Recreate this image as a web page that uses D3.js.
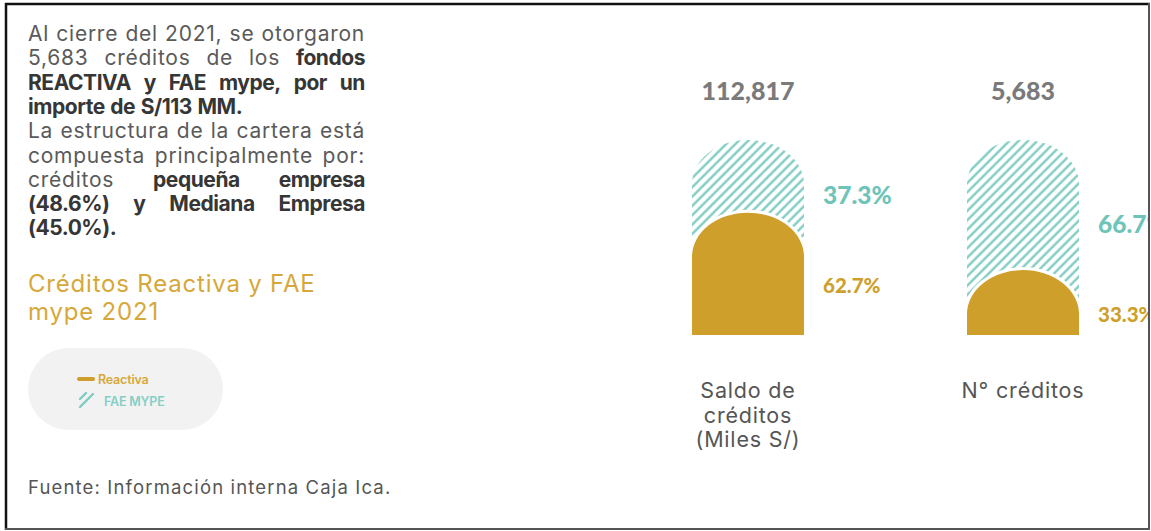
<!DOCTYPE html>
<html>
<head>
<meta charset="utf-8">
<script src="https://cdn.jsdelivr.net/npm/d3@7"></script>
<style>
  html, body { margin: 0; padding: 0; background: #fff; }
  svg { display: block; }
</style>
</head>
<body>
<svg id="chart" width="1151" height="531"></svg>
<script>
// Categories and values
const categories = ["Saldo de créditos (Miles S/)", "N° créditos"];
const categoryLines = [["Saldo de", "créditos", "(Miles S/)"], ["N° créditos"]];
const totals = [112817, 5683];
const reactivaPct = [62.7, 33.3];
const faePct = [37.3, 66.7];
const seriesNames = ["Reactiva", "FAE MYPE"];

// Intro paragraph, one entry per line: [text, bold]
const introLines = [
  [["Al cierre del 2021, se otorgaron", false]],
  [["5,683 créditos de los ", false], ["fondos", true]],
  [["REACTIVA y FAE mype, por un", true]],
  [["importe de S/113 MM.", true]],
  [["La estructura de la cartera está", false]],
  [["compuesta principalmente por:", false]],
  [["créditos ", false], ["pequeña empresa", true]],
  [["(48.6%) y Mediana Empresa", true]],
  [["(45.0%).", true]]
];
const justifiedLines = [true, true, true, false, true, true, true, true, false];
const titleLines = ["Créditos Reactiva y FAE", "mype 2021"];
const sourceText = "Fuente: Información interna Caja Ica.";

const GOLD = "#cf9f2b";
const TEAL = "#7ccbc1";
const TEAL_TEXT = "#6fc4b9";
const FONT = "Inter, 'Open Sans', sans-serif";
const NUM_FONT = "Lato, sans-serif";

const svg = d3.select("#chart");
const defs = svg.append("defs");

defs.append("pattern")
  .attr("id", "hatch")
  .attr("patternUnits", "userSpaceOnUse")
  .attr("width", 6.6).attr("height", 6.6)
  .attr("patternTransform", "rotate(45)")
  .append("line")
  .attr("x1", 1.5).attr("y1", 0).attr("x2", 1.5).attr("y2", 6.6)
  .attr("stroke", TEAL).attr("stroke-width", 2.3);

defs.append("clipPath").attr("id", "frameClip")
  .append("rect").attr("x", 6).attr("y", 4).attr("width", 1142).attr("height", 524);

svg.append("rect").attr("width", 1151).attr("height", 531).attr("fill", "#fff");

const root = svg.append("g").attr("clip-path", "url(#frameClip)");

// ---- Intro paragraph (justified) ----
const paraX = 28, paraRight = 365, paraTop = 41, lineH = 24.3;
const para = root.append("g");
introLines.forEach((runs, i) => {
  const words = [];
  runs.forEach(([t, b]) => t.split(" ").filter(w => w.length).forEach(w => words.push({ w, b })));
  const y = paraTop + i * lineH;
  const nodes = words.map(d =>
    para.append("text")
      .attr("y", y)
      .attr("font-family", FONT)
      .attr("font-size", 21)
      .attr("font-weight", d.b ? 700 : 400)
      .attr("letter-spacing", d.b ? -0.45 : 0.75)
      .attr("fill", d.b ? "#363636" : "#5a5a5a")
      .text(d.w));
  let widths = nodes.map(n => n.node().getComputedTextLength());
  const total = d3.sum(widths);
  let gap = 5.5;
  if (justifiedLines[i] && words.length > 1) {
    gap = (paraRight - paraX - total) / (words.length - 1);
    if (gap < 4) {
      // too long for the column: squeeze the words slightly
      const k = (paraRight - paraX - 4 * (words.length - 1)) / total;
      nodes.forEach((n, j) => n.attr("textLength", widths[j] * k).attr("lengthAdjust", "spacingAndGlyphs"));
      widths = widths.map(w => w * k);
      gap = 4;
    }
  }
  let x = paraX;
  nodes.forEach((n, k) => { n.attr("x", x); x += widths[k] + gap; });
});

// ---- Title ----
root.append("g").selectAll("text").data(titleLines).join("text")
  .attr("x", 28).attr("y", (d, i) => 292 + i * 28)
  .attr("font-family", FONT).attr("font-size", 24).attr("font-weight", 400)
  .attr("fill", "#d6a83a").attr("letter-spacing", 0.8)
  .text(d => d);

// ---- Legend ----
const legend = root.append("g");
legend.append("rect").attr("x", 28).attr("y", 348).attr("width", 195).attr("height", 82)
  .attr("rx", 41).attr("fill", "#f2f2f2");
legend.append("line").attr("x1", 79).attr("x2", 93).attr("y1", 379).attr("y2", 379)
  .attr("stroke", GOLD).attr("stroke-width", 4).attr("stroke-linecap", "round");
[[80, 399, 86, 393], [80, 407, 93, 394]].forEach(([x1, y1, x2, y2]) =>
  legend.append("line").attr("x1", x1).attr("y1", y1).attr("x2", x2).attr("y2", y2)
    .attr("stroke", TEAL).attr("stroke-width", 2.4).attr("stroke-linecap", "round"));
legend.selectAll("text.lg").data(seriesNames).join("text").attr("class", "lg")
  .attr("x", (d, i) => i === 0 ? 98 : 104)
  .attr("y", (d, i) => i === 0 ? 384 : 406)
  .attr("font-family", FONT).attr("font-size", 12.5).attr("font-weight", 600)
  .attr("fill", (d, i) => i === 0 ? "#d6a83a" : "#86cfc5")
  .attr("letter-spacing", -0.2)
  .text(d => d);

// ---- Source ----
root.append("text").attr("x", 28).attr("y", 494)
  .attr("font-family", FONT).attr("font-size", 18.5).attr("fill", "#555")
  .attr("letter-spacing", 1.15)
  .text(sourceText);

// ---- Bars ----
const x = d3.scalePoint().domain(categories).range([748, 1023]);
const y = d3.scaleLinear().domain([0, 100]).range([335, 140]);
const barW = 112;

function archPath(cx, yTop, yBottom) {
  const rx = barW / 2;
  const ry = Math.min(44, yBottom - yTop);
  const x0 = cx - rx, x1 = cx + rx;
  return `M${x0},${yBottom}L${x0},${yTop + ry}` +
    `A${rx},${ry} 0 0 1 ${cx},${yTop}` +
    `A${rx},${ry} 0 0 1 ${x1},${yTop + ry}` +
    `L${x1},${yBottom}Z`;
}

const rows = categories.map((c, i) => ({
  c, total: totals[i], r: reactivaPct[i], f: faePct[i], lines: categoryLines[i]
}));

const bars = root.append("g").selectAll("g").data(rows).join("g");

// FAE MYPE share, stacked above Reactiva
bars.append("path")
  .attr("d", d => archPath(x(d.c), y(d.r + d.f), y(0)))
  .attr("fill", "url(#hatch)");

// Reactiva share, with a white halo separating it from the hatch
bars.append("path")
  .attr("d", d => archPath(x(d.c), y(d.r), y(0)))
  .attr("fill", "#fff").attr("stroke", "#fff").attr("stroke-width", 6);
bars.append("path")
  .attr("d", d => archPath(x(d.c), y(d.r), y(0)))
  .attr("fill", GOLD);

// Totals above each bar
bars.append("text")
  .attr("x", d => x(d.c)).attr("y", 100)
  .attr("text-anchor", "middle")
  .attr("font-family", NUM_FONT).attr("font-size", 25).attr("font-weight", 900)
  .attr("fill", "#7a7a7a")
  .text(d => d3.format(",")(d.total));

// Percent labels
bars.append("text")
  .attr("x", d => x(d.c) + barW / 2 + 19)
  .attr("y", d => (y(d.r + d.f) + y(d.r)) / 2 + 28)
  .attr("font-family", NUM_FONT).attr("font-size", 24.5).attr("font-weight", 900)
  .attr("fill", TEAL_TEXT)
  .text(d => d3.format(".1f")(d.f) + "%");
bars.append("text")
  .attr("x", d => x(d.c) + barW / 2 + 19)
  .attr("y", d => (y(d.r) + y(0)) / 2 + 19)
  .attr("font-family", NUM_FONT).attr("font-size", 20.5).attr("font-weight", 900)
  .attr("fill", GOLD)
  .text(d => d3.format(".1f")(d.r) + "%");

// Category labels
bars.each(function (d) {
  d3.select(this).selectAll("text.cat").data(d.lines).join("text").attr("class", "cat")
    .attr("x", x(d.c)).attr("y", (t, i) => 398 + i * 24.5)
    .attr("text-anchor", "middle")
    .attr("font-family", FONT).attr("font-size", 21.5).attr("fill", "#555")
    .attr("letter-spacing", 0.8)
    .text(t => t);
});

// ---- Frame ----
svg.append("line").attr("x1", 6).attr("x2", 6).attr("y1", 3).attr("y2", 530)
  .attr("stroke", "#111").attr("stroke-width", 2.5);
svg.append("line").attr("x1", 5).attr("x2", 1150).attr("y1", 4).attr("y2", 4)
  .attr("stroke", "#111").attr("stroke-width", 2.5);
svg.append("line").attr("x1", 1149).attr("x2", 1149).attr("y1", 3).attr("y2", 530)
  .attr("stroke", "#555").attr("stroke-width", 2);
svg.append("line").attr("x1", 5).attr("x2", 1150).attr("y1", 529).attr("y2", 529)
  .attr("stroke", "#555").attr("stroke-width", 2);
</script>
</body>
</html>
